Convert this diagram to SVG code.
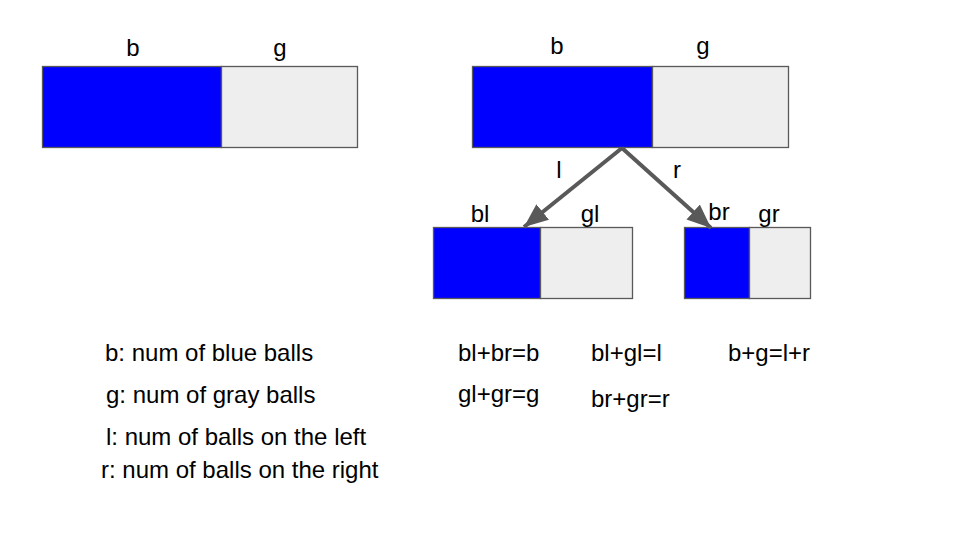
<svg xmlns="http://www.w3.org/2000/svg" width="960" height="540" viewBox="0 0 960 540">
<defs>
<style>
.blue{fill:#0000ff;stroke:#595959;stroke-width:1.3}
.gray{fill:#eeeeee;stroke:#595959;stroke-width:1.3}
text{font-family:"Liberation Sans",Arial,sans-serif;font-size:24px;fill:#000}
.lbl{text-anchor:middle}
.edge{stroke:#595959;stroke-width:4;fill:none}
</style>
<marker id="ah" viewBox="0 0 12 10" refX="12" refY="5" markerWidth="6" markerHeight="5.1" orient="auto" markerUnits="strokeWidth">
<path d="M0,0 L12,5 L0,10 z" fill="#595959"/>
</marker>
</defs>
<rect width="960" height="540" fill="#ffffff"/>
<g id="bar-left">
<rect class="blue" x="42.5" y="66.5" width="179" height="81"/>
<rect class="gray" x="221.5" y="66.5" width="136" height="81"/>
<text class="lbl" x="133" y="56">b</text>
<text class="lbl" x="280" y="56">g</text>
</g>
<g id="bar-top">
<rect class="blue" x="472.5" y="66.5" width="180" height="81"/>
<rect class="gray" x="652.5" y="66.5" width="136" height="81"/>
<text class="lbl" x="557" y="54">b</text>
<text class="lbl" x="703" y="54">g</text>
</g>
<g id="bar-l">
<rect class="blue" x="433.5" y="227.5" width="107" height="71"/>
<rect class="gray" x="540.5" y="227.5" width="92" height="71"/>
<text class="lbl" x="480" y="222">bl</text>
<text class="lbl" x="590" y="222">gl</text>
</g>
<g id="bar-r">
<rect class="blue" x="684.5" y="227.5" width="65" height="71"/>
<rect class="gray" x="749.5" y="227.5" width="61" height="71"/>
<text class="lbl" x="719" y="220">br</text>
<text class="lbl" x="769" y="222">gr</text>
</g>
<g id="connectors">
<line class="edge" x1="622" y1="148" x2="524" y2="227" marker-end="url(#ah)"/>
<line class="edge" x1="622" y1="148" x2="711" y2="228" marker-end="url(#ah)"/>
<text class="lbl" x="559" y="178">l</text>
<text class="lbl" x="677" y="178">r</text>
</g>
<g id="legend">
<text x="105" y="361">b: num of blue balls</text>
<text x="106" y="403">g: num of gray balls</text>
<text x="106" y="445">l: num of balls on the left</text>
<text x="101" y="478">r: num of balls on the right</text>
</g>
<g id="equations">
<text x="458" y="361">bl+br=b</text>
<text x="591" y="361">bl+gl=l</text>
<text x="728" y="361">b+g=l+r</text>
<text x="458" y="402">gl+gr=g</text>
<text x="591" y="407">br+gr=r</text>
</g>
</svg>
